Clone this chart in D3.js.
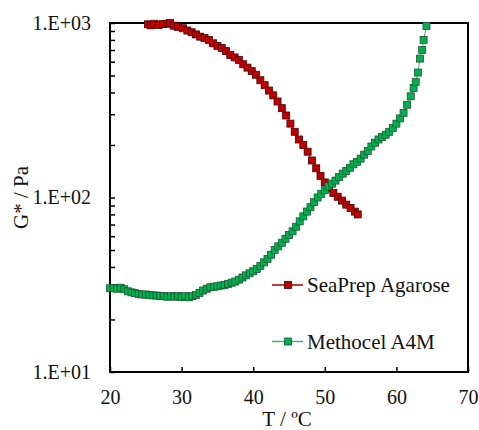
<!DOCTYPE html>
<html>
<head>
<meta charset="utf-8">
<script src="https://cdn.jsdelivr.net/npm/d3@7"></script>
<style>
  body { margin: 0; background: #fff; }
  svg text { font-family: "Liberation Serif", "Times New Roman", Times, "DejaVu Serif", serif !important; }
</style>
</head>
<body>
<div id="chart"></div>
<script>
// data: [T (°C), G* (Pa)]
const agarose = [
  [25.3, 983], [25.7, 970], [26.2, 990], [26.8, 975], [27.4, 985], [28.0, 990],
  [28.4, 1000], [28.9, 965], [29.5, 950], [30.2, 933], [30.8, 905], [31.4, 885],
  [32.0, 860], [32.6, 835], [33.2, 820], [33.8, 800], [34.4, 765], [35.0, 740],
  [35.6, 720], [36.2, 690], [36.8, 655], [37.4, 635], [38.0, 615], [38.6, 580],
  [39.2, 555], [39.8, 530], [40.4, 505], [41.0, 470], [41.6, 440], [42.2, 410],
  [42.8, 385], [43.4, 355], [44.0, 325], [44.6, 295], [45.2, 265], [45.8, 238],
  [46.4, 215], [47.0, 200], [47.6, 183], [48.2, 163], [48.8, 147], [49.4, 133],
  [50.0, 122], [50.6, 113], [51.2, 106], [51.8, 101], [52.4, 96], [53.0, 91],
  [53.6, 87], [54.2, 83], [54.6, 80]
];

const methocel = [
  [20.0, 30.2], [20.5, 30.3], [21.0, 30.0], [21.5, 30.4], [22.0, 29.8], [22.5, 29.0],
  [23.0, 28.6], [23.5, 28.3], [24.0, 28.0], [24.5, 27.8], [25.0, 27.8], [25.5, 27.6],
  [26.0, 27.5], [26.5, 27.4], [27.0, 27.3], [27.5, 27.2], [28.0, 27.0], [28.5, 27.2],
  [29.0, 27.0], [29.5, 27.3], [30.0, 26.9], [30.5, 27.2], [31.0, 26.8], [31.5, 27.2],
  [32.0, 27.6], [32.5, 28.4], [33.0, 29.3], [33.5, 30.0], [34.0, 30.6], [34.5, 30.8],
  [35.0, 31.0], [35.5, 31.3], [36.0, 31.5], [36.5, 32.0], [37.0, 32.5], [37.5, 33.0],
  [38.0, 33.8], [38.5, 34.8], [39.0, 35.8], [39.5, 36.8], [40.0, 37.8], [40.5, 39.0],
  [41.0, 40.5], [41.5, 42.5], [42.0, 44.5], [42.5, 47.0], [43.0, 50], [43.5, 52.5],
  [44.0, 55], [44.5, 58], [45.0, 61], [45.5, 64], [46.0, 68], [46.5, 73],
  [47.0, 78], [47.5, 83], [48.0, 88], [48.5, 94], [49.0, 100], [49.5, 105],
  [50.0, 110], [50.5, 116], [51.0, 120], [51.5, 125], [52.0, 131], [52.5, 137],
  [53.0, 142], [53.5, 148], [54.0, 155], [54.5, 160], [55.0, 167], [55.5, 176],
  [56.0, 185], [56.5, 196], [57.0, 206], [57.5, 215], [58.0, 222], [58.5, 229],
  [59.0, 238], [59.5, 250], [60.0, 265], [60.5, 284], [61.0, 305], [61.5, 340],
  [62.0, 380], [62.4, 425], [62.7, 460], [63.0, 520], [63.3, 625], [63.6, 700],
  [63.8, 800], [64.2, 960]
];

const seriesNames = ["SeaPrep Agarose", "Methocel A4M"];
const xTicks = [20, 30, 40, 50, 60, 70];
const yMajor = [10, 100, 1000];

const serif = "'Liberation Serif', 'Times New Roman', Times, 'DejaVu Serif', serif";

// dimensions
const W = 479, H = 430;
const margin = { top: 23, right: 11, bottom: 58, left: 110 },
      width = W - margin.left - margin.right,
      height = H - margin.top - margin.bottom;

const svg = d3.select("#chart")
  .append("svg")
    .attr("width", W)
    .attr("height", H)
    .attr("font-family", serif);

const g = svg.append("g")
  .attr("transform", `translate(${margin.left},${margin.top})`);

// scales
const x = d3.scaleLinear().domain([20, 70]).range([0, width]);
const y = d3.scaleLog().domain([10, 1000]).range([height, 0]);

// axes (ticks point inward)
const xAxis = g.append("g")
  .attr("transform", `translate(0,${height})`)
  .call(d3.axisBottom(x).tickValues(xTicks).tickSizeInner(-5).tickSizeOuter(0).tickPadding(18));

const yAxis = g.append("g")
  .call(d3.axisLeft(y)
    .tickValues(y.ticks())
    .tickSizeInner(-5).tickSizeOuter(0).tickPadding(19)
    .tickFormat(d => yMajor.includes(d) ? "1.E+" + String(Math.round(Math.log10(d))).padStart(2, "0") : ""));

[xAxis, yAxis].forEach(a => {
  a.attr("font-family", serif).attr("font-size", 20);
  a.select(".domain").remove();
  a.selectAll("line").attr("stroke", "#000").attr("stroke-width", 1.5);
  a.selectAll("text").attr("fill", "#111");
});

// frame
g.append("rect")
  .attr("width", width)
  .attr("height", height)
  .attr("fill", "none")
  .attr("stroke", "#000")
  .attr("stroke-width", 2);

// series
const styles = [
  { data: agarose, fill: "#c00000", stroke: "#4a0000", line: "#a00000" },
  { data: methocel, fill: "#00b050", stroke: "#1d5530", line: "#3cb371" }
];

const line = d3.line().x(d => x(d[0])).y(d => y(d[1]));
const ms = 7;

styles.forEach(s => {
  g.append("path")
    .datum(s.data)
    .attr("fill", "none")
    .attr("stroke", s.line)
    .attr("stroke-width", 1)
    .attr("d", line);

  g.selectAll(null)
    .data(s.data)
    .enter()
    .append("rect")
      .attr("x", d => x(d[0]) - ms / 2)
      .attr("y", d => y(d[1]) - ms / 2)
      .attr("width", ms)
      .attr("height", ms)
      .attr("fill", s.fill)
      .attr("stroke", s.stroke)
      .attr("stroke-width", 0.8);
});

// legend
const legendY = [285, 341.5];
styles.forEach((s, i) => {
  const lg = svg.append("g").attr("transform", `translate(272,${legendY[i]})`);
  lg.append("line")
    .attr("x1", 0).attr("x2", 31)
    .attr("stroke", s.line).attr("stroke-width", 1.5);
  lg.append("rect")
    .attr("x", 16 - 3.5).attr("y", -3.5)
    .attr("width", 7).attr("height", 7)
    .attr("fill", s.fill).attr("stroke", s.stroke).attr("stroke-width", 0.8);
  lg.append("text")
    .attr("x", 35).attr("y", 7)
    .attr("font-size", "21px")
    .attr("fill", "#111")
    .text(seriesNames[i]);
});

// axis titles
svg.append("text")
  .attr("x", margin.left + width / 2 - 2)
  .attr("y", 426)
  .attr("text-anchor", "middle")
  .attr("font-size", "21px")
  .attr("fill", "#111")
  .text("T / ºC");

svg.append("text")
  .attr("transform", `translate(28,${margin.top + height / 2}) rotate(-90)`)
  .attr("text-anchor", "middle")
  .attr("font-size", "21px")
  .attr("fill", "#111")
  .text("G* / Pa");
</script>
</body>
</html>
